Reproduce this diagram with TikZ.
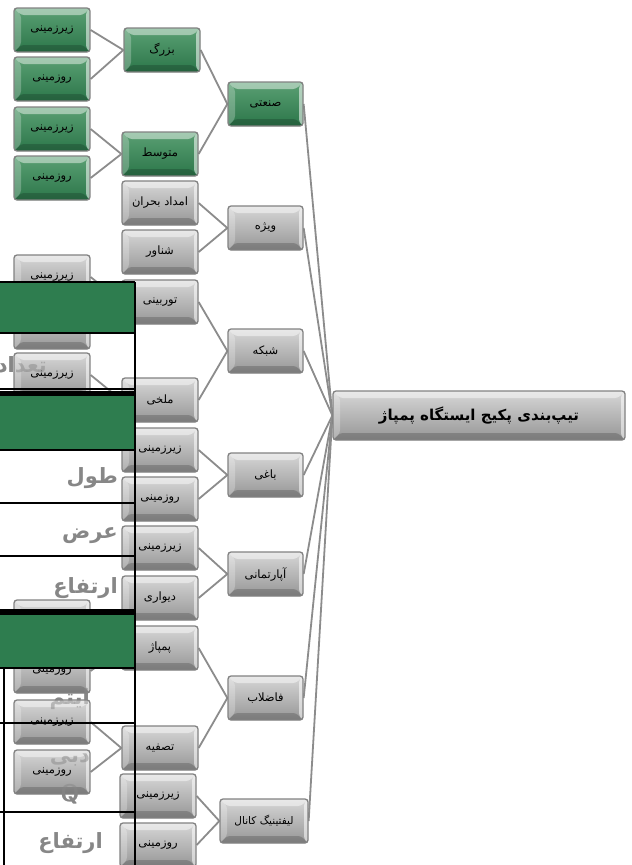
\documentclass[tikz,border=0pt]{standalone}
\usepackage{fontspec}
\newfontfamily\arabicfont[Script=Arabic]{DejaVu Sans}
\TeXXeTstate=1
\usetikzlibrary{backgrounds}
\newcommand{\fa}[1]{\beginR #1\endR}
\definecolor{grayT}{RGB}{215,215,215}
\definecolor{grayB}{RGB}{150,150,150}
\definecolor{greenT}{RGB}{90,160,115}
\definecolor{greenB}{RGB}{44,118,74}
\definecolor{edgeC}{RGB}{130,130,130}
\definecolor{connC}{RGB}{140,140,140}
\definecolor{tgreen}{RGB}{46,125,79}
\definecolor{lblC}{RGB}{135,135,135}
\tikzset{
  basebox/.style={rectangle, rounded corners=3pt, draw=edgeC, line width=1.3pt,
    minimum width=76pt, minimum height=44pt, inner sep=0pt,
    font=\arabicfont\fontsize{11.5}{13}\selectfont, text=black,
    path picture={
      \fill[white,opacity=0.45] (path picture bounding box.north west) -- (path picture bounding box.north east)
        -- ([xshift=-7pt,yshift=-7pt]path picture bounding box.north east) -- ([xshift=7pt,yshift=-7pt]path picture bounding box.north west) -- cycle;
      \fill[white,opacity=0.25] (path picture bounding box.north west) -- ([xshift=7pt,yshift=-7pt]path picture bounding box.north west)
        -- ([xshift=7pt,yshift=7pt]path picture bounding box.south west) -- (path picture bounding box.south west) -- cycle;
      \fill[black,opacity=0.18] (path picture bounding box.south west) -- (path picture bounding box.south east)
        -- ([xshift=-7pt,yshift=7pt]path picture bounding box.south east) -- ([xshift=7pt,yshift=7pt]path picture bounding box.south west) -- cycle;
      \fill[white,opacity=0.55] (path picture bounding box.north east) -- (path picture bounding box.south east)
        -- ([xshift=-4pt,yshift=4pt]path picture bounding box.south east) -- ([xshift=-4pt,yshift=-4pt]path picture bounding box.north east) -- cycle;
    }},
  gbox/.style={basebox, top color=greenT, bottom color=greenB},
  hbox/.style={basebox, top color=grayT, bottom color=grayB},
  conn/.style={draw=connC, line width=1.8pt},
  biglbl/.style={font=\arabicfont\bfseries\fontsize{21}{24}\selectfont, text=lblC, inner sep=0pt, anchor=east},
  faint/.style={opacity=0.5},
}
\begin{document}
\begin{tikzpicture}[x=1pt,y=-1pt]
\useasboundingbox (0,0) rectangle (632,865);
% green branch
\node[gbox] (a1) at (52,30) {\fa{زیرزمینی}};
\node[gbox] (a2) at (52,79) {\fa{روزمینی}};
\node[gbox] (a3) at (52,129) {\fa{زیرزمینی}};
\node[gbox] (a4) at (52,178) {\fa{روزمینی}};
\node[gbox] (b1) at (162,50) {\fa{بزرگ}};
\node[gbox] (b2) at (160,154) {\fa{متوسط}};
\node[gbox, minimum width=75pt] (c1) at (265.5,104) {\fa{صنعتی}};
% gray branches
\node[hbox] (d1) at (160,203) {\fa{امداد بحران}};
\node[hbox] (d2) at (160,252) {\fa{شناور}};
\node[hbox, minimum width=75pt] (c2) at (265.5,228) {\fa{ویژه}};
\node[hbox] (e1) at (52,277) {\fa{زیرزمینی}};
\node[hbox] (e2) at (52,327) {\fa{روزمینی}};
\node[hbox] (e3) at (52,375) {\fa{زیرزمینی}};
\node[hbox] (e4) at (52,424) {\fa{روزمینی}};
\node[hbox] (d3) at (160,302) {\fa{توربینی}};
\node[hbox] (d4) at (160,400) {\fa{ملخی}};
\node[hbox, minimum width=75pt] (c3) at (265.5,351) {\fa{شبکه}};
\node[hbox] (d5) at (160,450) {\fa{زیرزمینی}};
\node[hbox] (d6) at (160,499) {\fa{روزمینی}};
\node[hbox, minimum width=75pt] (c4) at (265.5,475) {\fa{باغی}};
\node[hbox] (d7) at (160,548) {\fa{زیرزمینی}};
\node[hbox] (d8) at (160,598) {\fa{دیواری}};
\node[hbox, minimum width=75pt] (c5) at (265.5,574) {\fa{آپارتمانی}};
\node[hbox] (e5) at (52,622) {\fa{زیرزمینی}};
\node[hbox] (e6) at (52,671) {\fa{روزمینی}};
\node[hbox] (e7) at (52,722) {\fa{زیرزمینی}};
\node[hbox] (e8) at (52,772) {\fa{روزمینی}};
\node[hbox] (d9) at (160,648) {\fa{پمپاژ}};
\node[hbox] (d10) at (160,748) {\fa{تصفیه}};
\node[hbox, minimum width=75pt] (c6) at (265.5,698) {\fa{فاضلاب}};
\node[hbox] (d11) at (158,796) {\fa{زیرزمینی}};
\node[hbox] (d12) at (158,845) {\fa{روزمینی}};
\node[hbox, minimum width=88pt, font=\arabicfont\fontsize{10.5}{12}\selectfont] (c7) at (264,821) {\fa{لیفتینیگ کانال}};
\node[hbox, minimum width=292pt, minimum height=49pt, font=\arabicfont\bfseries\fontsize{15}{17}\selectfont] (r) at (479,415.5) {\fa{تیپ‌بندی پکیج ایستگاه پمپاژ}};
% faint overlay of labels lying over boxes
\node[biglbl, faint] (t1f) at (47,365) {\fa{تعداد}};
\node[biglbl, faint] (t5f) at (90,699) {\fa{ایتم}};
\node[biglbl, faint] (t6f) at (90,760) {\fa{دبی}};
\node[biglbl, faint, font=\sffamily\bfseries\fontsize{24}{26}\selectfont, anchor=center] (t7f) at (70,794) {Q};
\begin{scope}[on background layer]
\fill[white] (0,0) rectangle (632,865);
\node[biglbl] (t1) at (47,365) {\fa{تعداد}};
\node[biglbl] (t2) at (118,478) {\fa{طول}};
\node[biglbl] (t3) at (118,536) {\fa{عرض}};
\node[biglbl] (t4) at (118,588) {\fa{ارتفاع}};
\node[biglbl] (t5) at (90,699) {\fa{ایتم}};
\node[biglbl] (t6) at (90,760) {\fa{دبی}};
\node[biglbl, font=\sffamily\bfseries\fontsize{24}{26}\selectfont, anchor=center] (t7) at (70,794) {Q};
\node[biglbl] (t8) at (103,843) {\fa{ارتفاع}};
\draw[conn] (a1.east) -- (b1.west);
\draw[conn] (a2.east) -- (b1.west);
\draw[conn] (a3.east) -- (b2.west);
\draw[conn] (a4.east) -- (b2.west);
\draw[conn] (b1.east) -- (c1.west);
\draw[conn] (b2.east) -- (c1.west);
\draw[conn] (d1.east) -- (c2.west);
\draw[conn] (d2.east) -- (c2.west);
\draw[conn] (e1.east) -- (d3.west);
\draw[conn] (e2.east) -- (d3.west);
\draw[conn] (e3.east) -- (d4.west);
\draw[conn] (e4.east) -- (d4.west);
\draw[conn] (d3.east) -- (c3.west);
\draw[conn] (d4.east) -- (c3.west);
\draw[conn] (d5.east) -- (c4.west);
\draw[conn] (d6.east) -- (c4.west);
\draw[conn] (d7.east) -- (c5.west);
\draw[conn] (d8.east) -- (c5.west);
\draw[conn] (e5.east) -- (d9.west);
\draw[conn] (e6.east) -- (d9.west);
\draw[conn] (e7.east) -- (d10.west);
\draw[conn] (e8.east) -- (d10.west);
\draw[conn] (d9.east) -- (c6.west);
\draw[conn] (d10.east) -- (c6.west);
\draw[conn] (d11.east) -- (c7.west);
\draw[conn] (d12.east) -- (c7.west);
\foreach \c in {c1,c2,c3,c4,c5,c6,c7} \draw[conn] (\c.east) -- (r.west);
\end{scope}
% overlapping table
\fill[tgreen] (0,283) rectangle (135,333);
\fill[tgreen] (0,396) rectangle (135,449);
\fill[tgreen] (0,615) rectangle (135,667);
\draw[line width=2pt] (0,282) -- (135,282);
\draw[line width=2pt] (0,333) -- (135,333);
\draw[line width=1.2pt] (0,389) -- (135,389);
\fill[black] (0,391) rectangle (135,396);
\draw[line width=2pt] (0,450) -- (135,450);
\draw[line width=1.6pt] (0,503) -- (135,503);
\draw[line width=1.6pt] (0,556) -- (135,556);
\fill[black] (0,609) rectangle (135,615);
\draw[line width=2pt] (0,668) -- (135,668);
\draw[line width=1.6pt] (0,723) -- (135,723);
\draw[line width=1.6pt] (0,812) -- (135,812);
\draw[line width=2pt] (4,668) -- (4,865);
\draw[line width=2pt] (135,282) -- (135,865);
\end{tikzpicture}
\end{document}
